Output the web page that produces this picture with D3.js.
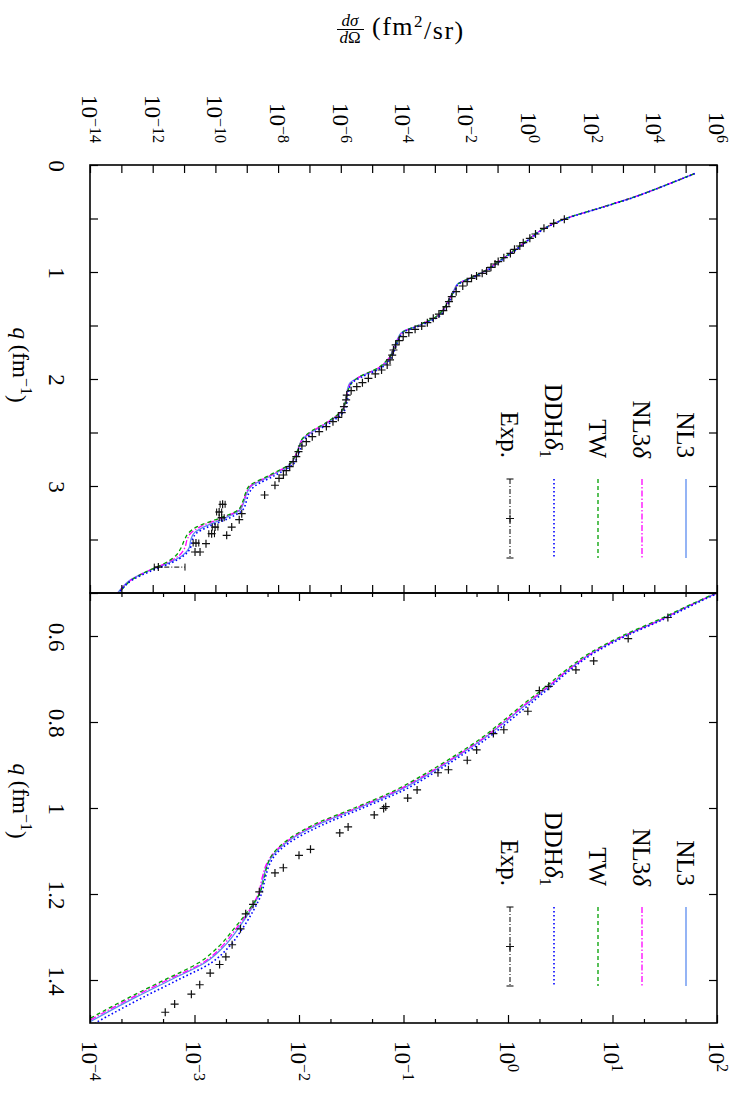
<!DOCTYPE html>
<html lang="en">
<head>
<meta charset="UTF-8">
<title>Elastic cross sections</title>
<script src="https://d3js.org/d3.v7.min.js"></script>
<style>
  body { margin: 0; background: #fff; }
  svg { display: block; }
  svg text { font-family: "Liberation Serif", "Times New Roman", "DejaVu Serif", serif; fill: #000; }
</style>
</head>
<body>
<svg width="738" height="1098"></svg>
<script>
// all cross sections stored as log10(dσ/dΩ in fm^2/sr)

// ---- top panel (q = 0 .. 4) ----
const topQ = [0.08, 0.2, 0.3, 0.4, 0.5, 0.6, 0.7, 0.8, 0.9, 1.0, 1.06, 1.11, 1.17, 1.25, 1.33, 1.42, 1.5, 1.56, 1.62, 1.7,
              1.8, 1.9, 1.98, 2.04, 2.1, 2.2, 2.3, 2.4, 2.5, 2.56, 2.62, 2.7, 2.8, 2.9, 3.0, 3.06, 3.14, 3.22, 3.3, 3.38,
              3.44, 3.5, 3.58, 3.65, 3.72, 3.8, 3.88, 3.95, 4.0];
const topNL3 = [5.28, 4.26, 3.35, 2.28, 1.18, 0.44, -0.03, -0.47, -0.95, -1.45, -1.88, -2.27, -2.39, -2.54, -2.68, -2.95, -3.52, -4.04, -4.18, -4.30,
                -4.45, -4.80, -5.40, -5.72, -5.79, -5.84, -5.96, -6.38, -6.95, -7.22, -7.32, -7.42, -7.62, -8.20, -8.85, -8.99, -9.08, -9.20, -9.70, -10.35,
                -10.68, -10.78, -10.84, -11.05, -11.50, -12.19, -12.72, -12.98, -13.12];
const topNL3d = [5.28, 4.26, 3.35, 2.28, 1.18, 0.44, -0.03, -0.48, -0.96, -1.46, -1.89, -2.26, -2.37, -2.53, -2.68, -2.96, -3.53, -4.02, -4.16, -4.29,
                 -4.45, -4.82, -5.40, -5.68, -5.77, -5.84, -5.97, -6.40, -6.97, -7.22, -7.31, -7.42, -7.64, -8.24, -8.88, -9.01, -9.10, -9.24, -9.80, -10.48,
                 -10.78, -10.90, -10.98, -11.16, -11.56, -12.20, -12.70, -12.96, -13.10];
const topTW = [5.28, 4.26, 3.35, 2.27, 1.17, 0.43, -0.04, -0.49, -0.97, -1.47, -1.90, -2.25, -2.36, -2.53, -2.69, -2.98, -3.55, -4.02, -4.15, -4.28,
               -4.46, -4.84, -5.41, -5.66, -5.76, -5.84, -5.98, -6.43, -7.00, -7.23, -7.31, -7.43, -7.66, -8.28, -8.92, -9.03, -9.12, -9.26, -9.86, -10.58,
               -10.86, -10.98, -11.10, -11.26, -11.60, -12.20, -12.68, -12.93, -13.07];
const topDDH = [5.29, 4.27, 3.37, 2.30, 1.20, 0.47, 0.00, -0.44, -0.92, -1.41, -1.84, -2.24, -2.36, -2.50, -2.63, -2.89, -3.46, -3.98, -4.13, -4.25,
                -4.39, -4.73, -5.32, -5.66, -5.74, -5.79, -5.89, -6.29, -6.86, -7.15, -7.25, -7.35, -7.53, -8.09, -8.74, -8.92, -9.01, -9.12, -9.56, -10.22,
                -10.60, -10.73, -10.80, -11.00, -11.42, -12.10, -12.66, -12.94, -13.08];

const topExpQ = [0.508, 0.545, 0.592, 0.645, 0.685, 0.726, 0.757, 0.788, 0.826, 0.866, 0.903, 0.925, 0.956, 0.991, 1.012, 1.037, 1.059, 1.090,
                 1.131, 1.184, 1.231, 1.277, 1.324, 1.361, 1.393, 1.433, 1.474, 1.505, 1.536, 1.567, 1.604, 1.642, 1.682, 1.729, 1.776, 1.822,
                 1.869, 1.916, 1.953, 1.994, 2.034, 2.072, 2.109, 2.150, 2.196, 2.259, 2.315, 2.358, 2.399, 2.445, 2.492, 2.539, 2.586, 2.626,
                 2.679, 2.726, 2.773, 2.819, 2.857, 2.897, 2.928, 2.993, 3.084, 3.171, 3.243, 3.259, 3.296, 3.315, 3.384, 3.384, 3.446, 3.461,
                 3.533, 3.539, 3.617, 3.617, 3.758];
const topExpV = [1.13, 0.79, 0.48, 0.21, 0.03, -0.18, -0.29, -0.46, -0.59, -0.80, -0.98, -1.08, -1.21, -1.35, -1.49, -1.67, -1.83, -1.97,
                 -2.11, -2.32, -2.46, -2.55, -2.63, -2.73, -2.87, -3.05, -3.24, -3.42, -3.63, -3.83, -4.01, -4.14, -4.25, -4.32, -4.36, -4.43,
                 -4.52, -4.70, -4.90, -5.12, -5.31, -5.49, -5.67, -5.81, -5.83, -5.90, -5.97, -6.08, -6.25, -6.46, -6.69, -6.91, -7.10, -7.24,
                 -7.35, -7.42, -7.52, -7.63, -7.74, -7.83, -7.97, -8.10, -8.43, -9.77, -9.88, -9.16, -9.80, -9.24, -10.01, -9.48, -10.12, -9.64,
                 -10.62, -10.30, -10.65, -10.49, -11.82];
// error bars wide enough to be seen: index into the exp arrays, low and high end
const topExpErrIdx = [63, 64, 66, 68, 70, 72, 76];
const topExpErrLo = [-9.85, -9.96, -9.88, -10.10, -10.21, -10.71, -11.95];
const topExpErrHi = [-9.69, -9.80, -9.72, -9.92, -10.03, -10.53, -10.97];

// ---- bottom panel (q = 0.5 .. 1.5) ----
const botQ = [0.5, 0.53, 0.56, 0.6, 0.64, 0.68, 0.72, 0.76, 0.8, 0.84, 0.88, 0.92, 0.96, 1.0, 1.04, 1.08, 1.11, 1.13, 1.16, 1.2,
              1.24, 1.28, 1.32, 1.36, 1.4, 1.44, 1.48, 1.5];
const botNL3 = [2.00, 1.73, 1.48, 1.11, 0.80, 0.57, 0.38, 0.17, -0.03, -0.24, -0.49, -0.75, -1.05, -1.43, -1.83, -2.12, -2.25, -2.30, -2.34, -2.38,
                -2.47, -2.58, -2.71, -2.90, -3.23, -3.56, -3.87, -4.02];
const botNL3d = [2.00, 1.73, 1.48, 1.11, 0.80, 0.57, 0.37, 0.16, -0.04, -0.25, -0.50, -0.77, -1.07, -1.45, -1.85, -2.13, -2.26, -2.31, -2.35, -2.39,
                 -2.48, -2.60, -2.73, -2.92, -3.26, -3.59, -3.90, -4.05];
const botTW = [1.99, 1.72, 1.46, 1.09, 0.78, 0.55, 0.35, 0.14, -0.06, -0.27, -0.52, -0.79, -1.09, -1.47, -1.87, -2.14, -2.26, -2.30, -2.33, -2.38,
               -2.49, -2.62, -2.76, -2.96, -3.29, -3.62, -3.93, -4.08];
const botDDH = [2.01, 1.75, 1.50, 1.13, 0.82, 0.59, 0.40, 0.20, 0.00, -0.21, -0.46, -0.72, -1.01, -1.39, -1.78, -2.09, -2.23, -2.28, -2.32, -2.36,
                -2.44, -2.54, -2.66, -2.84, -3.16, -3.49, -3.80, -3.95];

const botExpQ = [0.557, 0.606, 0.658, 0.679, 0.717, 0.727, 0.775, 0.818, 0.827, 0.865, 0.889, 0.911, 0.918, 0.958, 0.977, 0.997, 1.001, 1.016,
                 1.044, 1.058, 1.096, 1.110, 1.139, 1.151, 1.195, 1.224, 1.246, 1.281, 1.318, 1.346, 1.364, 1.384, 1.411, 1.433, 1.456, 1.475];
const botExpV = [1.53, 1.15, 0.82, 0.65, 0.39, 0.30, 0.19, -0.04, -0.14, -0.30, -0.39, -0.57, -0.67, -0.87, -0.96, -1.17, -1.19, -1.28,
                 -1.53, -1.61, -1.89, -2.00, -2.15, -2.23, -2.38, -2.44, -2.51, -2.56, -2.64, -2.70, -2.76, -2.85, -2.95, -3.03, -3.19, -3.28];

// axis ticks and labels
const topDecades = [-14, -13, -12, -11, -10, -9, -8, -7, -6, -5, -4, -3, -2, -1, 0, 1, 2, 3, 4, 5, 6];
const topLabelExps = [-14, -12, -10, -8, -6, -4, -2, 0, 2, 4, 6];
const botDecades = [-4, -3, -2, -1, 0, 1, 2];
const botMinorMult = [2, 5];
const topQTicks = [0, 0.5, 1, 1.5, 2, 2.5, 3, 3.5, 4];
const topQLabels = [0, 1, 2, 3];
const botQTicks = [0.6, 0.8, 1, 1.2, 1.4];
const legendNames = ["NL3", "NL3δ", "TW", "DDHδ1", "Exp."];

// ---- layout ----
const L = 90, R = 717, T = 165, M = 593, B = 1023;
const svg = d3.select("svg");
svg.append("rect").attr("width", 738).attr("height", 1098).attr("fill", "#fff");

const xTop = d3.scaleLog().domain([1e-14, 1e6]).range([L, R]);
const yTop = d3.scaleLinear().domain([0, 4]).range([T, M]);
const xBot = d3.scaleLog().domain([1e-4, 1e2]).range([L, R]);
const yBot = d3.scaleLinear().domain([0.5, 1.5]).range([M, B]);

const styles = [
  { color: "#5b8cf0", dash: null, width: 1.3 },
  { color: "#ff00ff", dash: "6,2,1.5,2", width: 1.3 },
  { color: "#00a000", dash: "4,3", width: 1.3 },
  { color: "#0000ff", dash: "1.6,2.4", width: 1.6 }
];

const defs = svg.append("defs");
defs.append("clipPath").attr("id", "clipTop").append("rect")
  .attr("x", L).attr("y", T).attr("width", R - L).attr("height", M - T);
defs.append("clipPath").attr("id", "clipBot").append("rect")
  .attr("x", L).attr("y", M).attr("width", R - L).attr("height", B - M);

function drawPanel(x, y, clip, qs, series, expQ, expV, err) {
  const g = svg.append("g").attr("clip-path", `url(#${clip})`);
  const line = d3.line()
    .x(d => x(Math.pow(10, d[1])))
    .y(d => y(d[0]))
    .curve(d3.curveMonotoneY);
  series.forEach((vals, i) => {
    const st = styles[i];
    g.append("path")
      .datum(qs.map((q, k) => [q, vals[k]]))
      .attr("d", line)
      .attr("fill", "none")
      .attr("stroke", st.color)
      .attr("stroke-width", st.width)
      .attr("stroke-dasharray", st.dash);
  });
  if (err) {
    err.idx.forEach((k, j) => {
      const yy = y(expQ[k]);
      const x0 = x(Math.pow(10, err.lo[j])), x1 = x(Math.pow(10, err.hi[j]));
      g.append("line").attr("x1", x0).attr("x2", x1).attr("y1", yy).attr("y2", yy)
        .attr("stroke", "#000").attr("stroke-width", 1)
        .attr("stroke-dasharray", (x1 - x0) > 15 ? "5,2,1,2" : null);
      [x0, x1].forEach(xx => g.append("line").attr("x1", xx).attr("x2", xx)
        .attr("y1", yy - 3.5).attr("y2", yy + 3.5).attr("stroke", "#000").attr("stroke-width", 1));
    });
  }
  g.selectAll("path.exp")
    .data(expQ.map((q, k) => [q, expV[k]]))
    .join("path")
    .attr("class", "exp")
    .attr("d", d => {
      const px = x(Math.pow(10, d[1])), py = y(d[0]);
      return `M${px - 4},${py}h8M${px},${py - 4}v8`;
    })
    .attr("stroke", "#111")
    .attr("stroke-width", 1.2)
    .attr("fill", "none");
}

drawPanel(xTop, yTop, "clipTop", topQ, [topNL3, topNL3d, topTW, topDDH], topExpQ, topExpV,
  { idx: topExpErrIdx, lo: topExpErrLo, hi: topExpErrHi });
drawPanel(xBot, yBot, "clipBot", botQ, [botNL3, botNL3d, botTW, botDDH], botExpQ, botExpV, null);

// ---- axes (ticks point inward) ----
function ticksOnly(g) {
  g.select(".domain").remove();
  g.selectAll(".tick line").attr("stroke", "#000").attr("stroke-width", 1.2);
}
const topVals = topDecades.map(e => Math.pow(10, e));
svg.append("g").attr("transform", `translate(0,${T})`)
  .call(d3.axisTop(xTop).tickValues(topVals).tickSize(-8).tickFormat("")).call(ticksOnly);
svg.append("g").attr("transform", `translate(0,${M})`)
  .call(d3.axisBottom(xTop).tickValues(topVals).tickSize(-8).tickFormat("")).call(ticksOnly);

const botVals = botDecades.map(e => Math.pow(10, e));
const botMinor = [];
botDecades.slice(0, -1).forEach(e => botMinorMult.forEach(m => botMinor.push(m * Math.pow(10, e))));
[[d3.axisTop, M], [d3.axisBottom, B]].forEach(([ax, yy]) => {
  svg.append("g").attr("transform", `translate(0,${yy})`)
    .call(ax(xBot).tickValues(botVals).tickSize(-8).tickFormat("")).call(ticksOnly);
  svg.append("g").attr("transform", `translate(0,${yy})`)
    .call(ax(xBot).tickValues(botMinor).tickSize(-4).tickFormat("")).call(ticksOnly);
});

svg.append("g").attr("transform", `translate(${L},0)`)
  .call(d3.axisLeft(yTop).tickValues(topQTicks).tickSize(-8).tickFormat("")).call(ticksOnly);
svg.append("g").attr("transform", `translate(${R},0)`)
  .call(d3.axisRight(yTop).tickValues(topQTicks).tickSize(-8).tickFormat("")).call(ticksOnly);
svg.append("g").attr("transform", `translate(${L},0)`)
  .call(d3.axisLeft(yBot).tickValues(botQTicks).tickSize(-8).tickFormat("")).call(ticksOnly);
svg.append("g").attr("transform", `translate(${R},0)`)
  .call(d3.axisRight(yBot).tickValues(botQTicks).tickSize(-8).tickFormat("")).call(ticksOnly);

// frames
svg.append("rect").attr("x", L).attr("y", T).attr("width", R - L).attr("height", M - T)
  .attr("fill", "none").attr("stroke", "#000").attr("stroke-width", 1.6);
svg.append("rect").attr("x", L).attr("y", M).attr("width", R - L).attr("height", B - M)
  .attr("fill", "none").attr("stroke", "#000").attr("stroke-width", 1.6);

// ---- tick labels (rotated like the page) ----
const FS = 23;
function powerLabel(px, py, e, anchor) {
  const t = svg.append("text")
    .attr("transform", `translate(${px},${py}) rotate(90)`)
    .attr("text-anchor", anchor)
    .attr("dy", "0.35em")
    .attr("font-size", FS);
  t.append("tspan").text("10");
  t.append("tspan").attr("dy", "-0.5em").attr("font-size", 16).text(e < 0 ? "\u2212" + (-e) : String(e));
}
topLabelExps.forEach(e => powerLabel(xTop(Math.pow(10, e)), 143, e, "end"));
botDecades.forEach(e => powerLabel(xBot(Math.pow(10, e)), 1041, e, "start"));

function qLabel(py, txt) {
  svg.append("text")
    .attr("transform", `translate(49,${py}) rotate(90)`)
    .attr("text-anchor", "middle")
    .attr("font-size", FS)
    .text(txt);
}
topQLabels.forEach(q => qLabel(yTop(q) + 1, String(q)));
botQTicks.forEach(q => qLabel(yBot(q) + 1, String(q)));

function qTitle(py) {
  const t = svg.append("text")
    .attr("transform", `translate(13,${py}) rotate(90)`)
    .attr("text-anchor", "middle")
    .attr("font-size", FS);
  t.append("tspan").attr("font-style", "italic").text("q");
  t.append("tspan").text(" (fm");
  t.append("tspan").attr("dy", "-0.5em").attr("font-size", 16).text("\u22121");
  t.append("tspan").attr("dy", "0.5em").text(")");
}
qTitle(365);
qTitle(801);

// y title: dσ/dΩ (fm²/sr)
const ttl = svg.append("g");
ttl.append("text").attr("x", 350).attr("y", 26).attr("text-anchor", "middle")
  .attr("font-size", 17).attr("font-style", "italic").text("dσ");
ttl.append("line").attr("x1", 337).attr("x2", 364).attr("y1", 29.5).attr("y2", 29.5)
  .attr("stroke", "#000").attr("stroke-width", 1);
const den = ttl.append("text").attr("x", 350).attr("y", 43).attr("text-anchor", "middle").attr("font-size", 17);
den.append("tspan").attr("font-style", "italic").text("d");
den.append("tspan").text("Ω");
const unit = ttl.append("text").attr("x", 372).attr("y", 35).attr("font-size", 26).attr("letter-spacing", 1.5);
unit.append("tspan").text("(fm");
unit.append("tspan").attr("dy", "-0.45em").attr("font-size", 17).text("2");
unit.append("tspan").attr("dy", "0.45em").text("/sr)");

// ---- legends ----
function legend(top) {
  const lineX = [686, 642, 598, 554, 510];
  const y0 = top + 314, y1 = top + 393, yt = top + 293;
  legendNames.forEach((name, i) => {
    const t = svg.append("text")
      .attr("transform", `translate(${lineX[i]},${yt}) rotate(90)`)
      .attr("text-anchor", "end")
      .attr("dy", "0.35em")
      .attr("font-size", 25);
    if (name === "NL3δ") {
      t.append("tspan").text("NL3");
      t.append("tspan").attr("font-style", "italic").text("δ");
    } else if (name === "DDHδ1") {
      t.append("tspan").text("DDH");
      t.append("tspan").attr("font-style", "italic").text("δ");
      t.append("tspan").attr("dy", "0.3em").attr("font-size", 17).text("1");
    } else {
      t.text(name);
    }
    if (i < 4) {
      const st = styles[i];
      svg.append("line").attr("x1", lineX[i]).attr("x2", lineX[i]).attr("y1", y0).attr("y2", y1)
        .attr("stroke", st.color).attr("stroke-width", st.width).attr("stroke-dasharray", st.dash);
    } else {
      const xx = lineX[i], ym = (y0 + y1) / 2;
      svg.append("line").attr("x1", xx).attr("x2", xx).attr("y1", y0).attr("y2", y1)
        .attr("stroke", "#000").attr("stroke-width", 1).attr("stroke-dasharray", "5,2,1,2");
      [y0, y1].forEach(yy => svg.append("line").attr("x1", xx - 3.5).attr("x2", xx + 3.5)
        .attr("y1", yy).attr("y2", yy).attr("stroke", "#000").attr("stroke-width", 1));
      svg.append("path").attr("d", `M${xx - 4},${ym}h8M${xx},${ym - 4}v8`)
        .attr("stroke", "#111").attr("stroke-width", 1.1);
    }
  });
}
legend(T);
legend(M);
</script>
</body>
</html>
